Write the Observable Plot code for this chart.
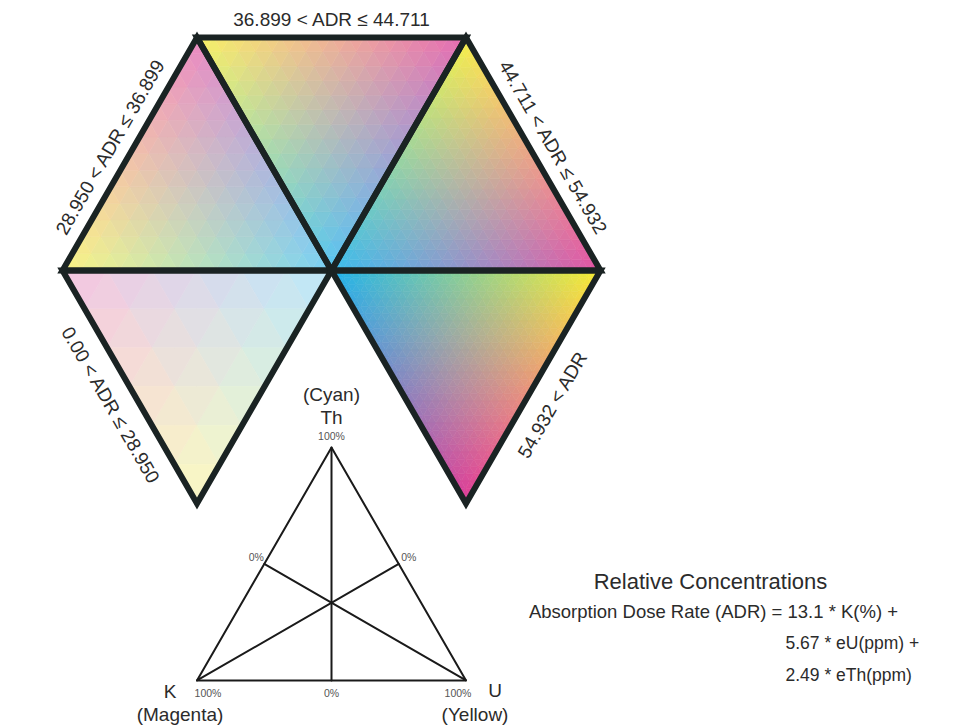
<!DOCTYPE html>
<html>
<head>
<meta charset="utf-8">
<script src="https://cdn.jsdelivr.net/npm/d3@7"></script>
<script src="https://cdn.jsdelivr.net/npm/@observablehq/plot@0.6"></script>
<style>
  body { margin: 0; background: #fff; }
  svg { display: block; }
</style>
</head>
<body>
<div id="chart"></div>
<script>
// ---------------- data ----------------
const classLabels = [
  "0.00 < ADR \u2264 28.950",
  "28.950 < ADR \u2264 36.899",
  "36.899 < ADR \u2264 44.711",
  "44.711 < ADR \u2264 54.932",
  "54.932 < ADR"
];
const classBreaks = [0.00, 28.950, 36.899, 44.711, 54.932];
// colour strength of each ADR class (pale -> saturated)
const classIntensity = [0.3, 0.6, 0.75, 0.88, 1.0];
// number of ternary subdivisions drawn in each class triangle
const classGrid = [6, 14, 16, 23, 32];
const components = ["Th", "K", "U"];
const componentInks = ["(Cyan)", "(Magenta)", "(Yellow)"];
const keyTickMax = "100%";
const keyTickMin = "0%";
const legendTitle = "Relative Concentrations";
const equationLines = [
  "Absorption Dose Rate (ADR) = 13.1 * K(%) +",
  "5.67 * eU(ppm) +",
  "2.49 * eTh(ppm)"
];

// ---------------- layout ----------------
const W = 975, HGT = 727;
const PX = 269;                 // pixels per unit triangle side
const CX = 331, CY = 270;       // hexagon centre in pixels
const H = Math.sqrt(3) / 2;
const u = px => (px - CX) / PX; // horizontal pixel -> unit
const v = py => (CY - py) / PX; // vertical pixel -> unit

const O = [0, 0];
const hexV = {L: [-1, 0], TL: [-0.5, H], TR: [0.5, H], R: [1, 0], BR: [0.5, -H], BL: [-0.5, -H]};
// [yellow (U) vertex, magenta (K) vertex]; cyan (Th) is always the centre
const slots = [["BL", "L"], ["L", "TL"], ["TL", "TR"], ["TR", "R"], ["R", "BR"]];

// ink colours (RGB 0..1)
const INK = {
  C: [30 / 255, 178 / 255, 236 / 255],
  M: [222 / 255, 58 / 255, 150 / 255],
  Y: [246 / 255, 236 / 255, 48 / 255]
};
function mix(c, m, y, s) {
  const rgb = [0, 1, 2].map(k =>
    (1 - s * c * (1 - INK.C[k])) * (1 - s * m * (1 - INK.M[k])) * (1 - s * y * (1 - INK.Y[k])));
  return d3.rgb(rgb[0] * 255, rgb[1] * 255, rgb[2] * 255).formatHex();
}

// ---------------- ternary cells ----------------
const cells = [];
let cid = 0;
function pushTri(pts, color) {
  const s = pts.slice().sort((a, b) => a[1] - b[1]);
  let hz, apex;
  if (Math.abs(s[0][1] - s[1][1]) < 1e-9) { hz = [s[0], s[1]]; apex = s[2]; }
  else { hz = [s[1], s[2]]; apex = s[0]; }
  const x0 = Math.min(hz[0][0], hz[1][0]), x1 = Math.max(hz[0][0], hz[1][0]);
  const yh = hz[0][1];
  const id = cid++;
  cells.push({id, x: x0, y1: yh, y2: yh, color});
  cells.push({id, x: apex[0], y1: yh, y2: apex[1], color});
  cells.push({id, x: x1, y1: yh, y2: yh, color});
}
const frames = [];
const labels = [];
classLabels.forEach((label, k) => {
  const A = hexV[slots[k][0]], B = hexV[slots[k][1]];
  const n = classGrid[k], s = classIntensity[k];
  const P = (i, j) => [O[0] + (i / n) * (A[0] - O[0]) + (j / n) * (B[0] - O[0]),
                       O[1] + (i / n) * (A[1] - O[1]) + (j / n) * (B[1] - O[1])];
  for (let i = 0; i < n; i++) {
    for (let j = 0; i + j < n; j++) {
      let a = (i + 1 / 3) / n, b = (j + 1 / 3) / n;
      pushTri([P(i, j), P(i + 1, j), P(i, j + 1)], mix(1 - a - b, b, a, s));
      if (i + j <= n - 2) {
        a = (i + 2 / 3) / n; b = (j + 2 / 3) / n;
        pushTri([P(i + 1, j), P(i, j + 1), P(i + 1, j + 1)], mix(1 - a - b, b, a, s));
      }
    }
  }
  [O, A, B, O, A].forEach(p => frames.push({id: k, x: p[0], y: p[1]}));
  // label along outer edge
  const mx = (A[0] + B[0]) / 2, my = (A[1] + B[1]) / 2;
  const len = Math.hypot(mx, my);
  const nx = mx / len, ny = my / len;
  let ex = B[0] - A[0], ey = B[1] - A[1];
  const el = Math.hypot(ex, ey); ex /= el; ey /= el;
  if (ey > 0) { ex = -ex; ey = -ey; } // along-edge vector pointing downward
  const lower = my < -1e-9, flat = Math.abs(ey) < 1e-9;
  const along = flat ? 0 : (lower ? 6 : 4) / PX;
  const d = (flat ? 18 : lower ? 26 : 20) / PX;
  let ang = Math.atan2(-(B[1] - A[1]), B[0] - A[0]) * 180 / Math.PI;
  if (ang > 90) ang -= 180;
  if (ang <= -90) ang += 180;
  labels.push({text: label, x: mx + nx * d + ex * along, y: my + ny * d + ey * along, rotate: ang});
});

// ---------------- ternary key ----------------
const keyApexY = v(447);
const Ka = [0, keyApexY], Kl = [-0.5, keyApexY - H], Kr = [0.5, keyApexY - H];
const mid = (p, q) => [(p[0] + q[0]) / 2, (p[1] + q[1]) / 2];
const keyLines = [];
[Ka, Kl, Kr, Ka, Kl].forEach(p => keyLines.push({id: "outline", x: p[0], y: p[1]}));
[[Ka, mid(Kl, Kr)], [Kl, mid(Ka, Kr)], [Kr, mid(Ka, Kl)]].forEach((seg, i) =>
  seg.forEach(p => keyLines.push({id: "m" + i, x: p[0], y: p[1]})));

const off = (p, dxPx, dyPx) => [p[0] + dxPx / PX, p[1] - dyPx / PX];
const keyBig = [
  {p: off(Ka, 0, -53), t: componentInks[0]},
  {p: off(Ka, 0, -30), t: components[0]},
  {p: off(Kl, -27, 11), t: components[1]},
  {p: off(Kl, -17, 34), t: componentInks[1]},
  {p: off(Kr, 29, 10), t: components[2]},
  {p: off(Kr, 9, 34), t: componentInks[2]}
].map(d => ({x: d.p[0], y: d.p[1], text: d.t}));
const keySmall = [
  {p: off(Ka, 0, -11), t: keyTickMax},
  {p: off(Kl, 11, 13), t: keyTickMax},
  {p: off(Kr, -8, 13), t: keyTickMax},
  {p: off(mid(Kl, Kr), 0, 13), t: keyTickMin},
  {p: off(mid(Ka, Kl), -8, -6), t: keyTickMin},
  {p: off(mid(Ka, Kr), 10, -6), t: keyTickMin}
].map(d => ({x: d.p[0], y: d.p[1], text: d.t}));

const eqTitle = [{x: u(710), y: v(581), text: legendTitle}];
const eqFirst = [{x: u(713), y: v(612), text: equationLines[0]}];
const eqRest = [
  {x: u(785), y: v(643), text: equationLines[1]},
  {x: u(785), y: v(675), text: equationLines[2]}
];

// ---------------- plot ----------------
const chart = Plot.plot({
  width: W,
  height: HGT,
  margin: 0,
  x: {domain: [u(0), u(W)], axis: null},
  y: {domain: [v(HGT), v(0)], axis: null},
  color: {type: "identity"},
  style: {fontFamily: "'Liberation Sans', Arial, sans-serif", background: "#fff", overflow: "visible"},
  marks: [
    Plot.areaY(cells, {x: "x", y1: "y1", y2: "y2", z: "id", fill: "color", stroke: "color", strokeWidth: 0.6}),
    Plot.line(frames, {x: "x", y: "y", z: "id", stroke: "#1a2323", strokeWidth: 6, strokeLinejoin: "miter", strokeMiterlimit: 4}),
    Plot.line(keyLines, {x: "x", y: "y", z: "id", stroke: "#1a1a1a", strokeWidth: 2, strokeLinejoin: "miter"}),
    Plot.text(labels, {x: "x", y: "y", text: "text", rotate: "rotate", fontSize: 19, fill: "#2b2b2b"}),
    Plot.text(keyBig, {x: "x", y: "y", text: "text", fontSize: 19, fill: "#2b2b2b"}),
    Plot.text(keySmall, {x: "x", y: "y", text: "text", fontSize: 10.5, fill: "#555"}),
    Plot.text(eqTitle, {x: "x", y: "y", text: "text", fontSize: 22, fill: "#2b2b2b"}),
    Plot.text(eqFirst, {x: "x", y: "y", text: "text", fontSize: 18.5, fill: "#2b2b2b"}),
    Plot.text(eqRest, {x: "x", y: "y", text: "text", fontSize: 17.5, fill: "#2b2b2b", textAnchor: "start"})
  ]
});
document.getElementById("chart").appendChild(chart);
</script>
</body>
</html>
